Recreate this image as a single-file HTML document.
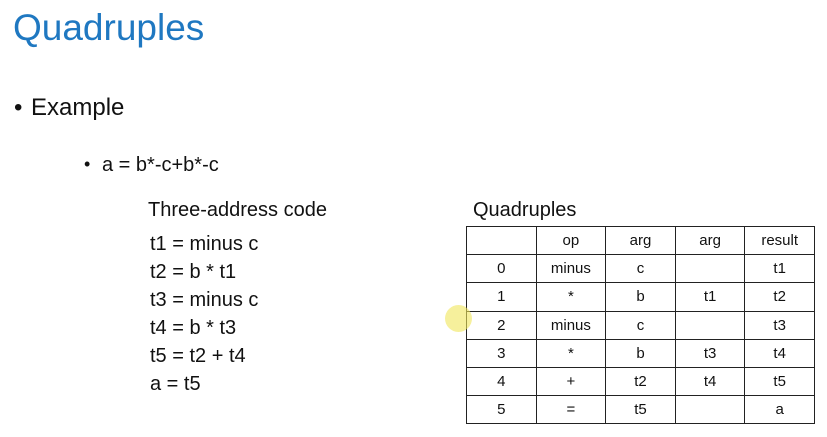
<!DOCTYPE html>
<html><head><meta charset="utf-8"><style>
body{margin:0;width:827px;height:437px;background:#fff;position:relative;overflow:hidden;font-family:"Liberation Sans",sans-serif;color:#111}
.t{position:absolute;white-space:nowrap;line-height:1}
table{position:absolute;left:466px;top:226px;border-collapse:collapse;font-size:15px}
td{border:1.5px solid #222;height:27.2px;padding:0;text-align:center;width:68.6px}
</style></head><body>
<div class="t" style="left:13px;top:9px;font-size:37px;color:#1f78c1">Quadruples</div>
<div class="t" style="left:14px;top:96px;font-size:24px">•</div>
<div class="t" style="left:31px;top:96px;font-size:24px">Example</div>
<div class="t" style="left:84px;top:155px;font-size:18px">•</div>
<div class="t" style="left:102px;top:155px;font-size:20px">a = b*-c+b*-c</div>
<div class="t" style="left:148px;top:200px;font-size:20px">Three-address code</div>
<div class="t" style="left:473px;top:200px;font-size:20px">Quadruples</div>
<div class="t" style="left:150px;top:230px;font-size:20px;line-height:28px">t1 = minus c<br>t2 = b * t1<br>t3 = minus c<br>t4 = b * t3<br>t5 = t2 + t4<br>a = t5</div>
<table>
<tr><td></td><td>op</td><td>arg</td><td>arg</td><td>result</td></tr>
<tr><td>0</td><td>minus</td><td>c</td><td></td><td>t1</td></tr>
<tr><td>1</td><td>*</td><td>b</td><td>t1</td><td>t2</td></tr>
<tr><td>2</td><td>minus</td><td>c</td><td></td><td>t3</td></tr>
<tr><td>3</td><td>*</td><td>b</td><td>t3</td><td>t4</td></tr>
<tr><td>4</td><td>+</td><td>t2</td><td>t4</td><td>t5</td></tr>
<tr><td>5</td><td>=</td><td>t5</td><td></td><td>a</td></tr>
</table>
<div style="position:absolute;left:445px;top:305px;width:27px;height:27px;border-radius:50%;background:rgba(240,230,90,0.6)"></div>
</body></html>
